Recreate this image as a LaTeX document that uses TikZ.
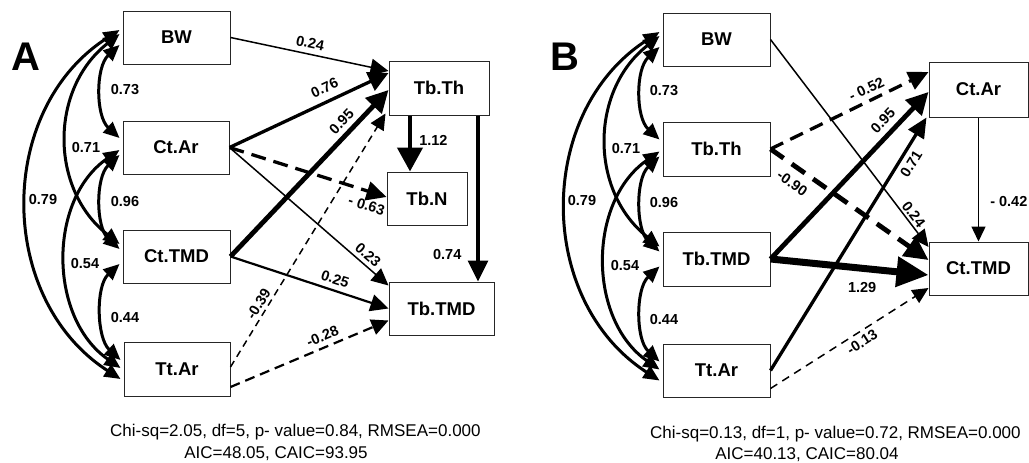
\documentclass[tikz,border=0pt]{standalone}
\usepackage{fontspec}
\setmainfont{Liberation Sans}
\usetikzlibrary{arrows.meta}
\begin{document}
\begin{tikzpicture}[x=1pt,y=-1pt,
  box/.style={draw=black!85,line width=1pt,inner sep=0pt,font=\fontsize{18.5}{20}\selectfont\bfseries},
  lab/.style={font=\fontsize{14.5}{16}\selectfont\bfseries,inner sep=1pt,sloped},
  labn/.style={font=\fontsize{14.5}{16}\selectfont\bfseries,inner sep=1pt},
  stat/.style={font=\fontsize{17}{19}\selectfont,inner sep=0pt},
  panel/.style={font=\fontsize{40}{44}\selectfont\bfseries,inner sep=0pt},
  lnthin/.style={line width=1.5pt},
  lnmed/.style={line width=2.2pt},
  lnthick/.style={line width=3.3pt},
  lnheavy/.style={line width=4.8pt},
  lnxheavy/.style={line width=7pt},
  corr/.style={line width=3pt,{Triangle[length=16pt,width=14pt]}-{Triangle[length=16pt,width=14pt]}},
  hd/.style 2 args={-{Triangle[length=#1pt,width=#2pt]}}
]
\useasboundingbox (0,0) rectangle (1029,463);

% ---------------- Panel A ----------------
\node[panel] (aLab) at (26,57) {A};
\node[box,minimum width=107pt,minimum height=53pt] (aBW) at (176.5,37.5) {BW};
\node[box,minimum width=106pt,minimum height=53pt] (aCtAr) at (176,147.5) {Ct.Ar};
\node[box,minimum width=107pt,minimum height=53pt] (aCtTMD) at (176.5,256.5) {Ct.TMD};
\node[box,minimum width=106pt,minimum height=54pt] (aTtAr) at (177,369) {Tt.Ar};
\node[box,minimum width=100pt,minimum height=54pt] (aTbTh) at (439,88) {Tb.Th};
\node[box,minimum width=80pt,minimum height=53pt] (aTbN) at (427,198.5) {Tb.N};
\node[box,minimum width=105pt,minimum height=53pt] (aTbTMD) at (441.5,308.5) {Tb.TMD};

% correlations A
\draw[corr] ([shift={(-3pt,-7.5pt)}]aBW.west) .. controls +(-24,22) and +(-24,-22) .. ([shift={(-3pt,9.5pt)}]aCtAr.west);
\draw[corr] ([shift={(-3pt,-7.5pt)}]aCtAr.west) .. controls +(-24,22) and +(-24,-22) .. ([shift={(-3pt,7.5pt)}]aCtTMD.west);
\draw[corr] ([shift={(-3pt,-7.5pt)}]aCtTMD.west) .. controls +(-24,22) and +(-24,-22) .. ([shift={(-3pt,9pt)}]aTtAr.west);
\draw[corr] ([shift={(-3pt,3.5pt)}]aBW.west) .. controls +(-70,55) and +(-70,-55) .. ([shift={(-3pt,12.5pt)}]aCtTMD.west);
\draw[corr] ([shift={(-3pt,-2.5pt)}]aCtAr.west) .. controls +(-72,50) and +(-72,-50) .. ([shift={(-3pt,1pt)}]aTtAr.west);
\draw[corr] ([shift={(-3pt,7.5pt)}]aBW.west) .. controls +(-124,80) and +(-124,-80) .. ([shift={(-3pt,-10pt)}]aTtAr.west);
\node[labn] (ac1) at (125,90) {0.73};
\node[labn] (ac2) at (86,148) {0.71};
\node[labn] (ac3) at (43,200) {0.79};
\node[labn] (ac4) at (125,202) {0.96};
\node[labn] (ac5) at (85,264) {0.54};
\node[labn] (ac6) at (125,318) {0.44};

% paths A
\draw[lnthin,hd={18}{17}] (aBW.east) -- ([yshift=17pt]aTbTh.west) node[lab,pos=.49,above=4pt]{0.24};
\draw[lnthick,hd={20}{20}] (aCtAr.east) -- ([yshift=15pt]aTbTh.west) node[lab,pos=.635,above=6pt]{0.76};
\draw[lnheavy,hd={22}{22}] (aCtTMD.east) -- ([yshift=-2pt]aTbTh.west) node[lab,pos=.76,above=4pt]{0.95};
\draw[lnthin,dash pattern=on 7pt off 5pt,hd={16}{15}] ([yshift=2pt]aTtAr.east) -- ([shift={(-3pt,2pt)}]aTbTh.south west) node[lab,pos=.23,above=2pt]{-0.39};
\draw[lnthick,dash pattern=on 15pt off 8pt,hd={20}{19}] (aCtAr.east) -- ([yshift=1.5pt]aTbN.west) node[lab,pos=.9,below=6pt]{- 0.63};
\draw[lnthin,hd={17}{16}] (aCtAr.east) -- ([yshift=23pt]aTbTMD.west) node[lab,pos=.83,above=3pt]{0.23};
\draw[lnmed,hd={18}{17}] (aCtTMD.east) -- (aTbTMD.west) node[lab,pos=.64,above=4pt]{0.25};
\draw[lnmed,dash pattern=on 10pt off 6pt,hd={17}{16}] ([yshift=-18pt]aTtAr.east) -- ([yshift=-12pt]aTbTMD.west) node[lab,pos=.61,above=4pt]{-0.28};
\draw[line width=4.5pt,hd={24}{25}] ([xshift=-29pt]aTbTh.south) -- ([xshift=-17pt]aTbN.north) node[labn,pos=.45,right=6pt]{1.12};
\draw[lnthick,hd={21}{20}] ([xshift=39pt]aTbTh.south) -- ([xshift=36.5pt]aTbTMD.north) node[labn,pos=.84,left=14pt]{0.74};

\node[stat,anchor=base west] (aStat1) at (110,436) {Chi-sq=2.05, df=5, p- value=0.84, RMSEA=0.000};
\node[stat,anchor=base] (aStat2) at (276,458) {AIC=48.05, CAIC=93.95};

% ---------------- Panel B ----------------
\node[panel] (bLab) at (565,57) {B};
\node[box,minimum width=107pt,minimum height=53pt] (bBW) at (716.5,39.5) {BW};
\node[box,minimum width=107pt,minimum height=54pt] (bTbTh) at (716.5,149) {Tb.Th};
\node[box,minimum width=107pt,minimum height=54pt] (bTbTMD) at (716.5,259) {Tb.TMD};
\node[box,minimum width=107pt,minimum height=53pt] (bTtAr) at (716.5,370.5) {Tt.Ar};
\node[box,minimum width=99pt,minimum height=55pt] (bCtAr) at (978.5,89.5) {Ct.Ar};
\node[box,minimum width=99pt,minimum height=53pt] (bCtTMD) at (978.5,268.5) {Ct.TMD};

% correlations B
\draw[corr] ([shift={(-3pt,-7.5pt)}]bBW.west) .. controls +(-24,22) and +(-24,-22) .. ([shift={(-3pt,9.5pt)}]bTbTh.west);
\draw[corr] ([shift={(-3pt,-7.5pt)}]bTbTh.west) .. controls +(-24,22) and +(-24,-22) .. ([shift={(-3pt,7.5pt)}]bTbTMD.west);
\draw[corr] ([shift={(-3pt,-7.5pt)}]bTbTMD.west) .. controls +(-24,22) and +(-24,-22) .. ([shift={(-3pt,9pt)}]bTtAr.west);
\draw[corr] ([shift={(-3pt,3.5pt)}]bBW.west) .. controls +(-70,55) and +(-70,-55) .. ([shift={(-3pt,12.5pt)}]bTbTMD.west);
\draw[corr] ([shift={(-3pt,-2.5pt)}]bTbTh.west) .. controls +(-72,50) and +(-72,-50) .. ([shift={(-3pt,1pt)}]bTtAr.west);
\draw[corr] ([shift={(-3pt,7.5pt)}]bBW.west) .. controls +(-124,80) and +(-124,-80) .. ([shift={(-3pt,-10pt)}]bTtAr.west);
\node[labn] (bc1) at (664,91) {0.73};
\node[labn] (bc2) at (626,149) {0.71};
\node[labn] (bc3) at (582,201) {0.79};
\node[labn] (bc4) at (664,203) {0.96};
\node[labn] (bc5) at (625,266) {0.54};
\node[labn] (bc6) at (664,320) {0.44};

% paths B
\draw[lnthin,hd={17}{16}] (bBW.east) -- ([yshift=21.5pt]bCtTMD.west) node[lab,pos=.866,above=1pt]{0.24};
\draw[lnthick,dash pattern=on 14pt off 8pt,hd={20}{19}] (bTbTh.east) -- ([yshift=17.5pt]bCtAr.west) node[lab,pos=.64,above=4pt]{- 0.52};
\draw[lnheavy,dash pattern=on 16pt off 10pt,hd={24}{23}] (bTbTh.east) -- ([yshift=8.5pt]bCtTMD.west) node[lab,pos=.195,below=7pt]{-0.90};
\draw[lnheavy,hd={22}{22}] (bTbTMD.east) -- ([yshift=-2.5pt]bCtAr.west) node[lab,pos=.774,above=5pt]{0.95};
\draw[lnthick,hd={20}{18}] (bTtAr.east) -- ([xshift=-2pt]bCtAr.south west) node[lab,pos=.84,below=3.5pt]{0.71};
\draw[lnxheavy,hd={32}{29}] (bTbTMD.east) -- ([yshift=-6.5pt]bCtTMD.west) node[labn,pos=.58,below=10pt]{1.29};
\draw[lnthin,dash pattern=on 8pt off 6pt,hd={16}{15}] ([yshift=-18pt]bTtAr.east) -- ([yshift=-19.5pt]bCtTMD.west) node[lab,pos=.546,below=3pt]{-0.13};
\draw[lnthin,hd={15}{14}] (bCtAr.south) -- (bCtTMD.north) node[labn,pos=.68,right=10pt]{- 0.42};

\node[stat,anchor=base west] (bStat1) at (650,438) {Chi-sq=0.13, df=1, p- value=0.72, RMSEA=0.000};
\node[stat,anchor=base] (bStat2) at (807,459) {AIC=40.13, CAIC=80.04};
\end{tikzpicture}
\end{document}
